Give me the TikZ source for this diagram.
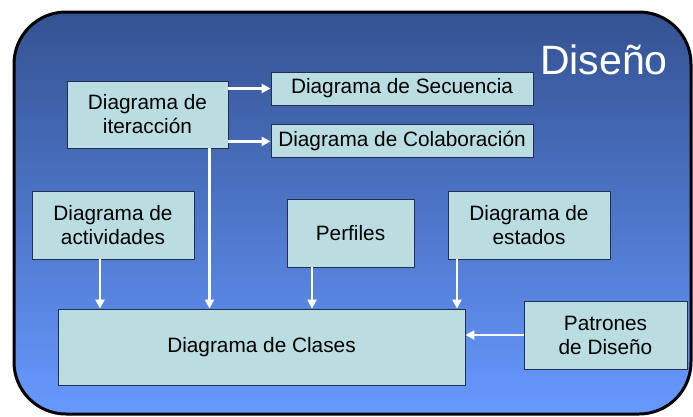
\documentclass[tikz,border=0pt]{standalone}
\usepackage{fontspec}
\setmainfont{Liberation Sans}
\usetikzlibrary{arrows.meta, positioning}

\definecolor{boxfill}{RGB}{185,221,224}
\definecolor{boxline}{RGB}{40,45,80}
\definecolor{bgtop}{RGB}{52,82,145}
\definecolor{bgmid}{RGB}{74,114,196}
\definecolor{bgbot}{RGB}{102,153,255}

\begin{document}
\begin{tikzpicture}[
    x=1pt, y=-1pt,
    box/.style={rectangle, draw=boxline, fill=boxfill, line width=0.9pt, align=center, inner sep=0pt, font=\fontsize{20.8}{24}\selectfont},
    arrow/.style={white, line width=2.4pt, -{Triangle[length=9pt,width=9pt]}}
]
\useasboundingbox (0,0) rectangle (693,416);

% Background
\draw [line width=3pt, rounded corners=52pt, top color=bgtop, middle color=bgmid, bottom color=bgbot]
    (14,12) rectangle (691,414);
\node (title) [white, font=\fontsize{41}{46}\selectfont] at (604,60) {Diseño};

% Nodes
\node (iter) [box, minimum width=161pt, minimum height=67pt] at (147.5,114.5) {Diagrama de\\iteracción};
\node (secuencia) [box, minimum width=262pt, minimum height=33pt] at (402,88.5) {Diagrama de Secuencia};
\node (colab) [box, minimum width=262pt, minimum height=33pt, below=19pt of secuencia] {Diagrama de Colaboración};
\node (activ) [box, minimum width=162pt, minimum height=68pt] at (113,225) {Diagrama de\\actividades};
\node (perfiles) [box, minimum width=127pt, minimum height=68pt] at (350.5,233) {Perfiles};
\node (estados) [box, minimum width=162pt, minimum height=68pt] at (529,225) {Diagrama de\\estados};
\node (clases) [box, minimum width=407pt, minimum height=76pt] at (261.5,347) {Diagrama de Clases};
\node (patrones) [box, minimum width=163pt, minimum height=68pt] at (605.5,335) {Patrones\\de Diseño};

% Arrows
\draw [arrow] (iter.east |- secuencia) -- (secuencia.west);
\draw [arrow] (iter.east |- colab) -- (colab.west);
\draw [arrow] ([xshift=62pt]iter.south) -- ([xshift=62pt]iter.south |- clases.north);
\draw [arrow] ([xshift=-13pt]activ.south) -- ([xshift=-13pt]activ.south |- clases.north);
\draw [arrow] ([xshift=-38.5pt]perfiles.south) -- ([xshift=-38.5pt]perfiles.south |- clases.north);
\draw [arrow] ([xshift=-72pt]estados.south) -- ([xshift=-72pt]estados.south |- clases.north);
\draw [arrow] (patrones.west) -- (clases.east |- patrones.west);

\end{tikzpicture}
\end{document}
